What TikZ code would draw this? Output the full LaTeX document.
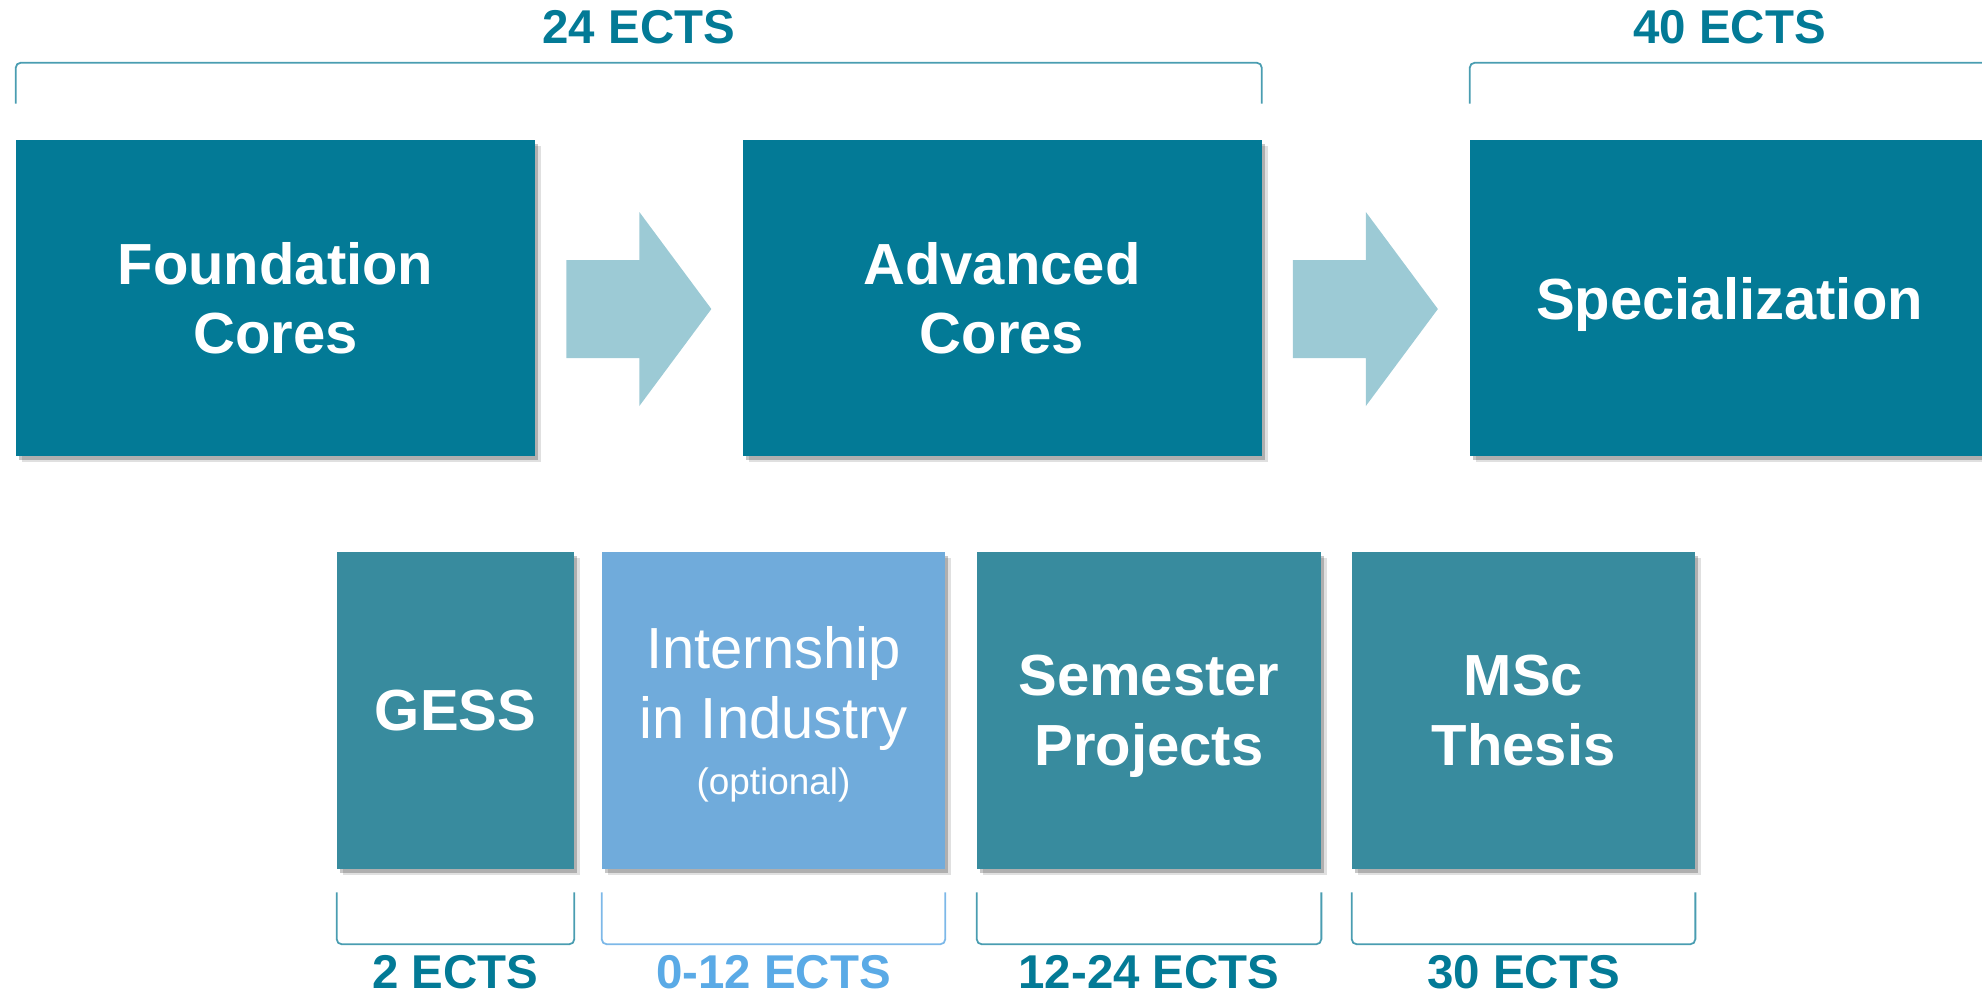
\documentclass[tikz,border=0pt]{standalone}
\usepackage{fontspec}
\setmainfont{Liberation Sans}
\usetikzlibrary{calc,shadows}
\definecolor{corecolor}{HTML}{037A96}
\definecolor{sidecolor}{HTML}{388B9E}
\definecolor{interncolor}{HTML}{70ABDB}
\definecolor{arrowcolor}{HTML}{9CCAD5}
\definecolor{bracketcolor}{HTML}{4A9DB1}
\definecolor{internline}{HTML}{7DB8E8}
\definecolor{interntext}{HTML}{5AAAE6}
\tikzset{
  boxshadow/.style={drop shadow={shadow xshift=0.12cm,shadow yshift=-0.12cm,fill=black,opacity=0.12},
                    drop shadow={shadow xshift=0.06cm,shadow yshift=-0.07cm,fill=black,opacity=0.22}},
  corebox/.style={boxshadow,fill=corecolor,text=white,minimum width=10.38cm,minimum height=6.32cm,
                  align=center,inner sep=0pt,text depth=0pt,font=\fontsize{33}{39.6}\selectfont\bfseries},
  sidebox/.style={boxshadow,fill=sidecolor,text=white,minimum height=6.34cm,
                  align=center,inner sep=0pt,text depth=0pt,font=\fontsize{33}{39.6}\selectfont\bfseries},
  ectslabel/.style={text=corecolor,inner sep=0pt,font=\fontsize{27}{32}\selectfont\bfseries},
  bracketline/.style={draw=bracketcolor,line width=1pt,rounded corners=3pt},
}
\begin{document}
\begin{tikzpicture}
 \clip (0,0) rectangle (39.64,-19.94);
 % programme steps
 \node [corebox] (found) at (5.51,-5.96) {Foundation\\Cores};
 \node [corebox] (adv) at (20.04,-5.96) {Advanced\\Cores};
 \node [corebox] (spec) at (34.59,-5.96) {Specialization};
 \foreach \a in {found,adv}
  \fill [arrowcolor] ($(\a.east)+(0.62,0.76)$) -- ++(1.46,0) -- ++(0,0.96) -- ++(1.44,-1.94)
        -- ++(-1.44,-1.94) -- ++(0,0.96) -- ++(-1.46,0) -- cycle;
 % upper brackets
 \draw [bracketline] ([yshift=0.72cm]found.north west) -- ([yshift=1.54cm]found.north west)
       -- ([yshift=1.54cm]adv.north east) -- ([yshift=0.72cm]adv.north east);
 \draw [bracketline] ([yshift=0.72cm]spec.north west) -- ([yshift=1.54cm]spec.north west)
       -- ([yshift=1.54cm]spec.north east) -- ([yshift=0.72cm]spec.north east);
 \node [ectslabel] (e24) at ($(found.north west)!0.5!(adv.north east)+(0,2.24)$) {24 ECTS};
 \node [ectslabel] (e40) at ([yshift=2.24cm]spec.north) {40 ECTS};
 % further parts
 \node [sidebox,minimum width=4.74cm] (gess) at (9.11,-14.21) {GESS};
 \node [sidebox,minimum width=6.86cm,fill=interncolor,font=\fontsize{33}{39.6}\selectfont] (intern) at (15.47,-14.21)
       {Internship\\in Industry\\[-8pt]{\fontsize{21}{26}\selectfont(optional)}};
 \node [sidebox,minimum width=6.88cm] (sem) at (22.98,-14.21) {Semester\\Projects};
 \node [sidebox,minimum width=6.86cm] (thesis) at (30.47,-14.21) {MSc\\Thesis};
 \foreach \n/\c in {gess/bracketcolor,intern/internline,sem/bracketcolor,thesis/bracketcolor}
  \draw [bracketline,draw=\c] ([yshift=-0.46cm]\n.south west) -- ([yshift=-1.5cm]\n.south west)
        -- ([yshift=-1.5cm]\n.south east) -- ([yshift=-0.46cm]\n.south east);
 \node [ectslabel] (e2) at ([yshift=-2.06cm]gess.south) {2 ECTS};
 \node [ectslabel,text=interntext] (e012) at ([yshift=-2.06cm]intern.south) {0-12 ECTS};
 \node [ectslabel] (e1224) at ([yshift=-2.06cm]sem.south) {12-24 ECTS};
 \node [ectslabel] (e30) at ([yshift=-2.06cm]thesis.south) {30 ECTS};
\end{tikzpicture}
\end{document}
